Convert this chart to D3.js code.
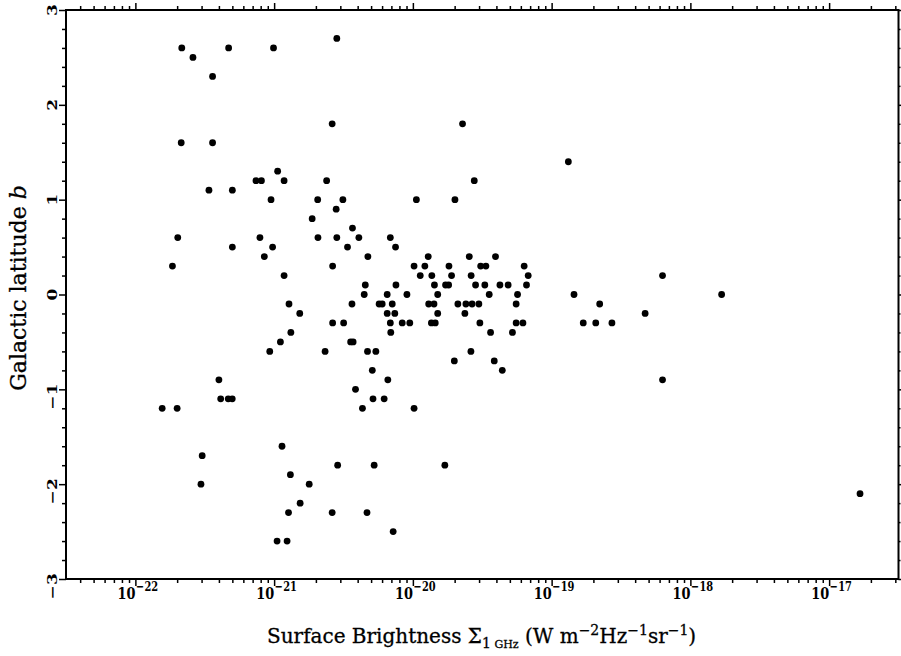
<!DOCTYPE html>
<html>
<head>
<meta charset="utf-8">
<script src="https://cdn.jsdelivr.net/npm/d3@7/dist/d3.min.js"></script>
<style>
  html, body { margin: 0; padding: 0; background: #fff; }
  svg { display: block; }
  text { font-family: 'DejaVu Serif', serif; fill: #000; }
</style>
</head>
<body>
<svg id="chart" width="901" height="656"></svg>
<script>
// ---- data ----
const brightness = [
  2.16e-22, 2.6e-22, 4.7e-22, 9.9e-22, 2.83e-21, 3.6e-22, 2.62e-21, 2.14e-22, 3.6e-22, 1.06e-21,
  7.4e-22, 8.1e-22, 1.18e-21, 2.39e-21, 3.39e-22, 5.0e-22, 9.5e-22, 2.06e-21, 2.8e-21, 1.88e-21,
  2.02e-22, 7.9e-22, 2.07e-21, 2.83e-21, 5.0e-22, 9.75e-22, 8.5e-22, 1.85e-22, 1.18e-21, 2.64e-21,
  1.28e-21, 1.53e-21, 2.64e-21, 1.32e-21, 1.11e-21, 9.3e-22, 2.33e-21, 4.0e-22, 4.12e-22, 4.67e-22,
  4.99e-22, 1.56e-22, 2.0e-22, 1.14e-21, 3.03e-22, 2.87e-21, 1.31e-21, 2.97e-22, 1.79e-21, 1.54e-21,
  1.27e-21, 2.62e-21, 1.05e-21, 1.24e-21,
  2.28e-20, 2.77e-20, 3.13e-21, 1.06e-20, 2.01e-20, 3.67e-21, 4.08e-21, 6.88e-21, 3.38e-21, 7.5e-21,
  4.74e-21, 1.29e-20, 2.55e-20, 3.94e-20, 1.02e-20, 1.22e-20, 1.82e-20, 3.08e-20, 3.36e-20, 6.34e-20,
  1.13e-20, 1.37e-20, 1.90e-20, 2.63e-20, 6.78e-20,
  4.54e-21, 7.55e-21, 1.43e-20, 1.72e-20, 1.81e-20, 2.83e-20, 3.30e-20, 4.24e-20, 4.86e-20, 6.59e-20,
  4.46e-21, 6.53e-21, 9.06e-21, 1.51e-20, 3.55e-20, 5.68e-20,
  3.64e-21, 5.71e-21, 6.01e-21, 7.1e-21, 1.30e-20, 1.42e-20, 2.11e-20, 2.41e-20, 2.67e-20, 2.99e-20, 5.55e-20,
  6.53e-21, 7.41e-21, 1.51e-20, 2.37e-20,
  3.17e-21, 6.88e-21, 8.38e-21, 9.5e-21, 1.36e-20, 1.45e-20, 3.04e-20, 5.55e-20, 6.21e-20,
  6.93e-21, 3.63e-20, 5.22e-20,
  3.56e-21, 3.71e-21,
  4.71e-21, 5.41e-21, 2.62e-20,
  1.99e-20, 3.86e-20,
  5.1e-21, 4.41e-20,
  6.6e-21,
  3.86e-21,
  5.16e-21, 6.21e-21,
  4.33e-21, 1.02e-20,
  5.26e-21, 1.70e-20,
  4.67e-21,
  7.21e-21,
  1.32e-19, 6.3e-19, 1.45e-19, 1.68e-18, 2.22e-19, 4.72e-19, 1.69e-19, 2.08e-19, 2.72e-19, 6.3e-19, 1.67e-17
];
const latitude = [
  2.6, 2.5, 2.6, 2.6, 2.7, 2.3, 1.8, 1.6, 1.6, 1.3,
  1.2, 1.2, 1.2, 1.2, 1.1, 1.1, 1.0, 1.0, 0.9, 0.8,
  0.6, 0.6, 0.6, 0.6, 0.5, 0.5, 0.4, 0.3, 0.2, 0.3,
  -0.1, -0.2, -0.3, -0.4, -0.5, -0.6, -0.6, -0.9, -1.1, -1.1,
  -1.1, -1.2, -1.2, -1.6, -1.7, -1.8, -1.9, -2.0, -2.0, -2.2,
  -2.3, -2.3, -2.6, -2.6,
  1.8, 1.2, 1.0, 1.0, 1.0, 0.7, 0.6, 0.6, 0.5, 0.5,
  0.4, 0.4, 0.4, 0.4, 0.3, 0.3, 0.3, 0.3, 0.3, 0.3,
  0.2, 0.2, 0.2, 0.2, 0.2,
  0.1, 0.1, 0.1, 0.1, 0.1, 0.1, 0.1, 0.1, 0.1, 0.1,
  0, 0, 0, 0, 0, 0,
  -0.1, -0.1, -0.1, -0.1, -0.1, -0.1, -0.1, -0.1, -0.1, -0.1, -0.1,
  -0.2, -0.2, -0.2, -0.2,
  -0.3, -0.3, -0.3, -0.3, -0.3, -0.3, -0.3, -0.3, -0.3,
  -0.4, -0.4, -0.4,
  -0.5, -0.5,
  -0.6, -0.6, -0.6,
  -0.7, -0.7,
  -0.8, -0.8,
  -0.9,
  -1.0,
  -1.1, -1.1,
  -1.2, -1.2,
  -1.8, -1.8,
  -2.3,
  -2.5,
  1.4, 0.2, 0, 0, -0.1, -0.2, -0.3, -0.3, -0.3, -0.9, -2.1
];
const xDomain = [Math.pow(10, -22.5), Math.pow(10, -16.5)];
const xMajorExponents = [-22, -21, -20, -19, -18, -17];
const yDomain = [-3, 3];
const yMajorTicks = [-3, -2, -1, 0, 1, 2, 3];
const yTickLabels = ["\u22123", "\u22122", "\u22121", "0", "1", "2", "3"];
const yTitle = "Galactic latitude ";
const yTitleSymbol = "b";

(function () {
// ---- layout ----
const svg = d3.select("#chart");
const pL = 66, pR = 898.5, pT = 10, pB = 579;
const x = d3.scaleLog().domain(xDomain).range([pL, pR]);
const y = d3.scaleLinear().domain(yDomain).range([pB, pT]);

// minor ticks
const xMinor = [];
for (let e = -23; e <= -17; e++) {
  for (let m = 2; m <= 9; m++) {
    const v = m * Math.pow(10, e);
    if (v >= xDomain[0] && v <= xDomain[1]) xMinor.push(v);
  }
}
const xMajor = xMajorExponents.map(e => Math.pow(10, e));
const yMinor = d3.range(-30, 31, 2).map(d => d / 10).filter(d => Math.abs(d - Math.round(d)) > 1e-6);

function styleAxis(g) {
  g.select(".domain").remove();
  g.selectAll(".tick line").attr("stroke", "#000").attr("stroke-width", 1.5);
  g.selectAll(".tick text").remove();
}

// bottom
svg.append("g").attr("transform", `translate(0,${pB})`)
  .call(d3.axisBottom(x).tickValues(xMinor).tickSize(4).tickFormat("")).call(styleAxis);
svg.append("g").attr("transform", `translate(0,${pB})`)
  .call(d3.axisBottom(x).tickValues(xMajor).tickSize(7).tickFormat("")).call(styleAxis);
// top
svg.append("g").attr("transform", `translate(0,${pT})`)
  .call(d3.axisTop(x).tickValues(xMinor).tickSize(4).tickFormat("")).call(styleAxis);
svg.append("g").attr("transform", `translate(0,${pT})`)
  .call(d3.axisTop(x).tickValues(xMajor).tickSize(7).tickFormat("")).call(styleAxis);
// left
svg.append("g").attr("transform", `translate(${pL},0)`)
  .call(d3.axisLeft(y).tickValues(yMinor).tickSize(4).tickFormat("")).call(styleAxis);
svg.append("g").attr("transform", `translate(${pL},0)`)
  .call(d3.axisLeft(y).tickValues(yMajorTicks).tickSize(7).tickFormat("")).call(styleAxis);
// right
svg.append("g").attr("transform", `translate(${pR},0)`)
  .call(d3.axisRight(y).tickValues(yMinor).tickSize(2).tickFormat("")).call(styleAxis);
svg.append("g").attr("transform", `translate(${pR},0)`)
  .call(d3.axisRight(y).tickValues(yMajorTicks).tickSize(3).tickFormat("")).call(styleAxis);

// frame
svg.append("rect")
  .attr("x", pL).attr("y", pT)
  .attr("width", pR - pL).attr("height", pB - pT)
  .attr("fill", "none").attr("stroke", "#000").attr("stroke-width", 2);

// x tick labels
const squeeze = 0.76;
const xl = svg.append("g");
xMajorExponents.forEach((e, i) => {
  const px = x(xMajor[i]);
  const g = xl.append("g").attr("transform", `translate(${px},599) scale(${squeeze},1)`);
  g.append("text").attr("text-anchor", "end").attr("font-size", 17).attr("font-weight", "bold").text("10");
  g.append("text").attr("x", 1).attr("y", -8).attr("font-size", 13).attr("font-weight", "bold")
    .text("\u2212" + Math.abs(e));
});

// y tick labels (rotated)
yMajorTicks.forEach((t, i) => {
  svg.append("text")
    .attr("transform", `translate(57,${y(t)}) rotate(-90) scale(1,${squeeze})`)
    .attr("x", 0.696 * 17 / 2)
    .attr("text-anchor", "end")
    .attr("font-size", 17).attr("font-weight", "bold")
    .text(yTickLabels[i]);
});

// y title
const yt = svg.append("text")
  .attr("transform", `translate(26,288) rotate(-90)`)
  .attr("text-anchor", "middle")
  .attr("font-size", 22)
  .attr("stroke", "#000").attr("stroke-width", 0.3);
yt.append("tspan").text(yTitle);
yt.append("tspan").attr("font-style", "italic").text(yTitleSymbol);

// x title
const xt = svg.append("text")
  .attr("transform", `translate(267,643)`)
  .attr("font-size", 20)
  .attr("stroke", "#000").attr("stroke-width", 0.3);
xt.append("tspan").text("Surface Brightness \u03A3");
xt.append("tspan").attr("dy", 5).attr("font-size", 14).text("1");
xt.append("tspan").attr("font-size", 11).text(" GHz");
xt.append("tspan").attr("dy", -5).text(" (W m");
xt.append("tspan").attr("dy", -8).attr("font-size", 14).text("\u22122");
xt.append("tspan").attr("dy", 8).text("Hz");
xt.append("tspan").attr("dy", -8).attr("font-size", 14).text("\u22121");
xt.append("tspan").attr("dy", 8).text("sr");
xt.append("tspan").attr("dy", -8).attr("font-size", 14).text("\u22121");
xt.append("tspan").attr("dy", 8).text(")");

// points
const pts = brightness.map((b, i) => ({ b, l: latitude[i] }));
svg.append("g").selectAll("circle").data(pts).join("circle")
  .attr("cx", d => x(d.b))
  .attr("cy", d => y(d.l))
  .attr("r", 3.4)
  .attr("fill", "#000");
})();
</script>
</body>
</html>
